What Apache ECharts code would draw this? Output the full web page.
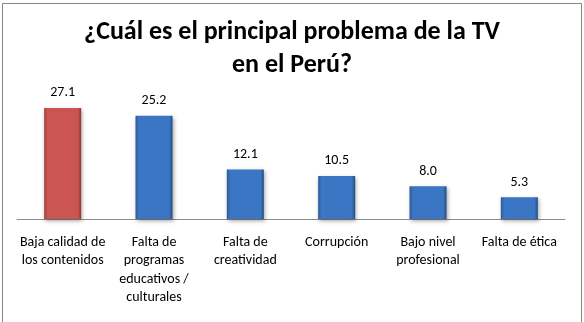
<!DOCTYPE html>
<html>
<head>
<meta charset="utf-8">
<script src="https://cdn.jsdelivr.net/npm/echarts@6/dist/echarts.min.js"></script>
<style>
  html, body { margin: 0; padding: 0; background: #ffffff; }
  #chart { width: 584px; height: 322px; }
</style>
</head>
<body>
<div id="chart"></div>
<script>
// Survey answers: main problem of television in Peru (percent)
const categories = [
  'Baja calidad de\nlos contenidos',
  'Falta de\nprogramas\neducativos /\nculturales',
  'Falta de\ncreatividad',
  'Corrupción',
  'Bajo nivel\nprofesional',
  'Falta de ética'
];
const values = [27.1, 25.2, 12.1, 10.5, 8.0, 5.3];
const highlightIndex = 0;

const FONT = 'Carlito, Lato, sans-serif';

// Bevel-like horizontal shading: darker edges, bright body
function barFill(edge, body, edge2) {
  return new echarts.graphic.LinearGradient(0, 0, 1, 0, [
    { offset: 0, color: edge },
    { offset: 0.09, color: body },
    { offset: 0.91, color: body },
    { offset: 1, color: edge2 }
  ]);
}
const redFill = barFill('#9e3f3d', '#cb5553', '#8f3634');
const blueFill = barFill('#2b5994', '#3b76c4', '#244c80');

const chart = echarts.init(document.getElementById('chart'), null, { renderer: 'canvas' });

chart.setOption({
  animation: false,
  backgroundColor: '#ffffff',
  title: {
    text: '¿Cuál es el principal problema de la TV\nen el Perú?',
    left: 'center',
    top: 11,
    textStyle: {
      fontFamily: FONT,
      fontWeight: 'bold',
      fontSize: 26,
      lineHeight: 33,
      color: '#000000'
    }
  },
  graphic: [{
    type: 'rect',
    silent: true,
    shape: { x: 2.5, y: 3.5, width: 579, height: 340 },
    style: { fill: 'none', stroke: '#858585', lineWidth: 1 }
  }],
  grid: { left: 17, right: 19, top: 96, bottom: 103, containLabel: false },
  xAxis: {
    type: 'category',
    data: categories,
    axisLine: { show: true, lineStyle: { color: '#8c8c8c', width: 1 } },
    axisTick: { show: false },
    axisLabel: {
      interval: 0,
      margin: 14,
      fontFamily: FONT,
      fontSize: 14,
      lineHeight: 18.5,
      color: '#000000'
    }
  },
  yAxis: {
    type: 'value',
    min: 0,
    max: 30,
    show: false,
    splitLine: { show: false }
  },
  series: [{
    type: 'bar',
    barWidth: 37,
    data: values.map((v, i) => ({
      value: v,
      itemStyle: { color: i === highlightIndex ? redFill : blueFill }
    })),
    itemStyle: {
      shadowColor: 'rgba(0,0,0,0.35)',
      shadowBlur: 4,
      shadowOffsetX: 1,
      shadowOffsetY: 2
    },
    label: {
      show: true,
      position: 'top',
      distance: 8,
      fontFamily: FONT,
      fontSize: 14,
      color: '#000000',
      formatter: p => p.value.toFixed(1)
    }
  }]
});
</script>
</body>
</html>
